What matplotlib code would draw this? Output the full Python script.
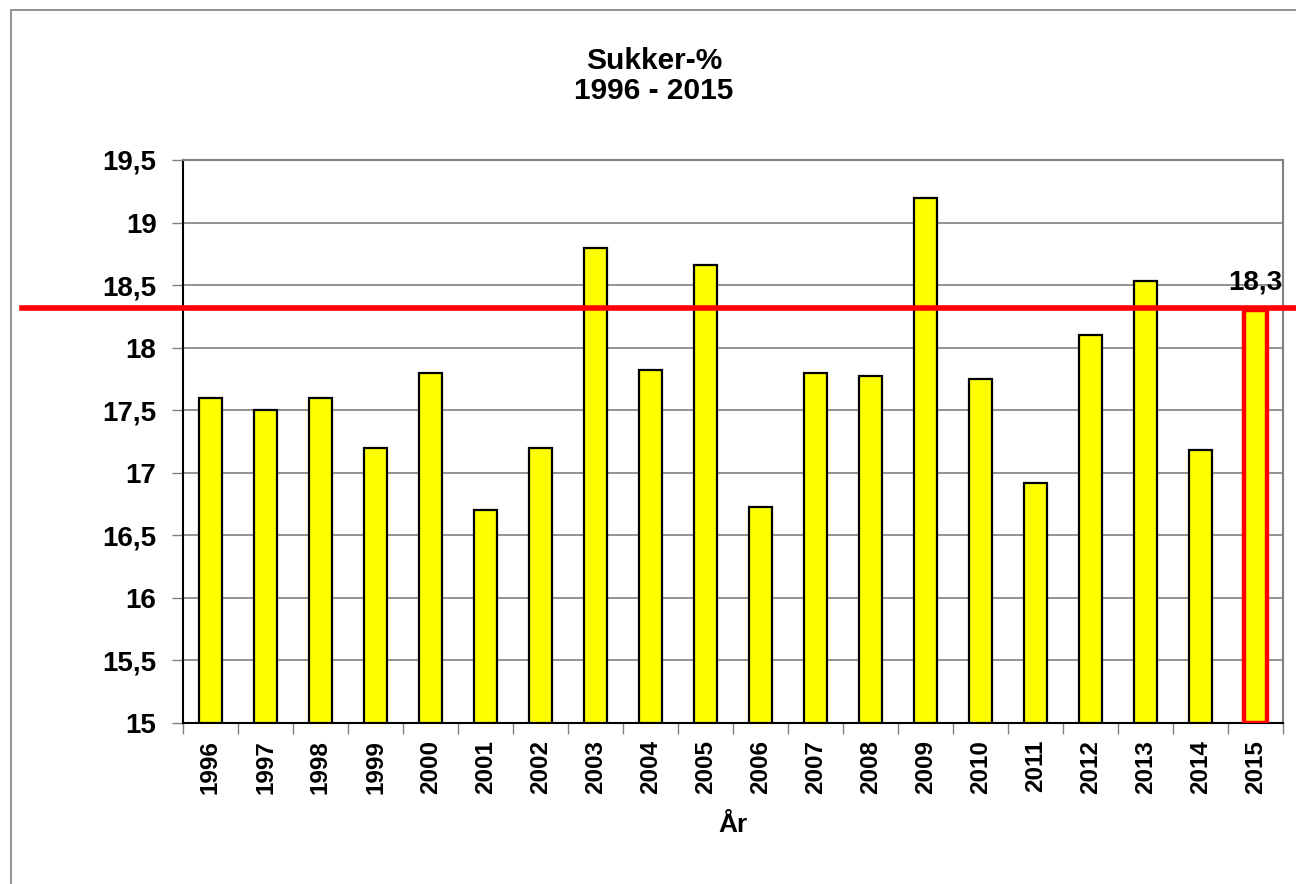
import matplotlib.pyplot as plt
import matplotlib.transforms as mtransforms

plt.rcParams['font.family'] = ['Liberation Sans', 'DejaVu Sans']
plt.rcParams['font.weight'] = 'bold'

# Sukker-% per år
years = ['1996', '1997', '1998', '1999', '2000', '2001', '2002', '2003', '2004', '2005',
         '2006', '2007', '2008', '2009', '2010', '2011', '2012', '2013', '2014', '2015']
sugar = [17.6, 17.5, 17.6, 17.2, 17.8, 16.7, 17.2, 18.8, 17.82, 18.66,
         16.73, 17.8, 17.77, 19.2, 17.75, 16.92, 18.1, 18.53, 17.18, 18.3]
level_2015 = 18.3
y_ticks = [15, 15.5, 16, 16.5, 17, 17.5, 18, 18.5, 19, 19.5]
y_labels = ['15', '15,5', '16', '16,5', '17', '17,5', '18', '18,5', '19', '19,5']

fig = plt.figure(figsize=(12.96, 8.84), dpi=100)
ax = fig.add_axes([183 / 1296, 1 - 723 / 884, 1100 / 1296, 563 / 884])

x = list(range(len(years)))
ax.bar(x, [v - 15 for v in sugar], bottom=15, width=0.42, color='#ffff00',
       edgecolor='black', linewidth=1.6, zorder=3)

# red frame round the last bar
ax.bar([x[-1]], [level_2015 - 15], bottom=15, width=0.42, color='none',
       edgecolor='#ff0000', linewidth=3.2, zorder=4)

ax.set_xlim(-0.5, len(years) - 0.5)
ax.set_ylim(15, 19.5)
ax.set_yticks(y_ticks)
ax.set_yticklabels(y_labels, fontsize=20, fontweight='bold')
ax.set_xticks(x)
ax.set_xticklabels(years, rotation=90, fontsize=17.5, fontweight='bold')
ax.tick_params(axis='x', length=0, pad=12)
ax.set_xticks([i + 0.5 for i in x[:-1]] + [-0.5, len(years) - 0.5], minor=True)
ax.tick_params(axis='x', which='minor', length=8, width=1, color='#808080', direction='out')
ax.tick_params(axis='y', length=8, width=1, color='#808080', pad=11)

ax.grid(axis='y', color='#808080', linewidth=1.2, zorder=0)
ax.set_axisbelow(True)
ax.spines['top'].set_color('#808080')
ax.spines['right'].set_color('#808080')
ax.spines['top'].set_linewidth(1.5)
ax.spines['right'].set_linewidth(1.5)
ax.spines['left'].set_color('black')
ax.spines['bottom'].set_color('black')
ax.spines['left'].set_linewidth(1.5)
ax.spines['bottom'].set_linewidth(1.5)

ax.set_xlabel('År', fontsize=19, fontweight='bold', labelpad=14)

# red reference line across the whole figure
trans = mtransforms.blended_transform_factory(fig.transFigure, ax.transData)
ax.plot([22 / 1296, 1.0], [level_2015 + 0.02, level_2015 + 0.02], color='#ff0000',
        linewidth=4, transform=trans, clip_on=False, zorder=5)
ax.text(x[-1], level_2015 + 0.12, '18,3', ha='center', va='bottom',
        fontsize=20, fontweight='bold', zorder=6)

fig.text(654 / 1296, 1 - 76 / 884, 'Sukker-%\n1996 - 2015', ha='center', va='center',
         fontsize=21.5, fontweight='bold', linespacing=1.1)

# outer chart frame
fig.patches.append(plt.Rectangle((11 / 1296, -0.01), 1.1, 1 - 10 / 884 + 0.01,
                                 transform=fig.transFigure, fill=False,
                                 edgecolor='#808080', linewidth=1.2))

fig.savefig('out.png', dpi=100, facecolor='white')
